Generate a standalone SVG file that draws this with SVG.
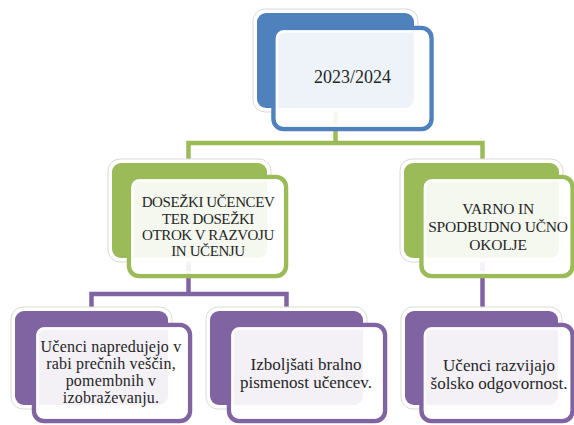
<svg xmlns="http://www.w3.org/2000/svg" width="574" height="425" viewBox="0 0 574 425">
<style>
  .halo{fill:#ffffff;stroke:#d9d9d9;stroke-width:1}
  .back-b{fill:#4F81BD}
  .back-g{fill:#9BBB59}
  .back-p{fill:#8064A2}
  .front{fill:#ffffff;fill-opacity:0.9;stroke-width:4.5}
  .fb{stroke:#4F81BD}
  .fg{stroke:#9BBB59}
  .fp{stroke:#8064A2}
  .inner{fill:none;stroke:#ffffff;stroke-width:2.5;stroke-opacity:0.85}
  .conn{fill:none;stroke-width:4.5;stroke-linejoin:miter}
  text{font-family:"Liberation Serif","Times New Roman",serif;fill:#262626;text-anchor:middle}
  .t0{font-size:18px}
  .t1{font-size:15px;letter-spacing:-0.4px}
  .t1r{font-size:15.5px;letter-spacing:-0.2px}
  .t2{font-size:17px}
  .t2s{font-size:16px;letter-spacing:0.2px}
</style>
<rect width="574" height="425" fill="#ffffff"/>
<g id="connectors">
  <path class="conn" stroke="#9BBB59" d="M188.5 163 V143 H482.5 V163 M335.5 108 V143"/>
  <path class="conn" stroke="#8064A2" d="M91.5 311 V294 H286.5 V311 M188.5 258 V294 M482.5 258 V311"/>
</g>
<g id="node-top">
  <rect class="halo" x="253" y="9" width="165" height="103" rx="12"/>
  <rect class="back-b" x="257" y="13" width="157" height="95" rx="9"/>
  <rect class="front fb" x="273.5" y="28" width="158" height="101" rx="10"/>
  <rect class="inner" x="277" y="31.5" width="151" height="94" rx="7"/>
  <text class="t0" x="352.5" y="83">2023/2024</text>
</g>
<g id="node-dosezki">
  <rect class="halo" x="108" y="159" width="163" height="103" rx="12"/>
  <rect class="back-g" x="112" y="163" width="155" height="95" rx="9"/>
  <rect class="front fg" x="129" y="177" width="157" height="99" rx="10"/>
  <rect class="inner" x="132.5" y="180.5" width="150" height="92" rx="7"/>
  <text class="t1" x="208" y="207">DOSEŽKI UČENCEV</text>
  <text class="t1" x="208" y="223.5">TER DOSEŽKI</text>
  <text class="t1" x="208" y="240">OTROK V RAZVOJU</text>
  <text class="t1" x="208" y="256">IN UČENJU</text>
</g>
<g id="node-varno">
  <rect class="halo" x="400" y="159" width="163" height="103" rx="12"/>
  <rect class="back-g" x="404" y="163" width="155" height="95" rx="9"/>
  <rect class="front fg" x="421.5" y="177" width="151" height="99" rx="10"/>
  <rect class="inner" x="425" y="180.5" width="144" height="92" rx="7"/>
  <text class="t1r" x="498" y="214">VARNO IN</text>
  <text class="t1r" x="498" y="232">SPODBUDNO UČNO</text>
  <text class="t1r" x="498" y="250">OKOLJE</text>
</g>
<g id="node-napredujejo">
  <rect class="halo" x="11" y="307" width="161" height="102" rx="12"/>
  <rect class="back-p" x="15" y="311" width="153" height="94" rx="9"/>
  <rect class="front fp" x="34" y="325" width="156" height="96" rx="10"/>
  <rect class="inner" x="37.5" y="328.5" width="149" height="89" rx="7"/>
  <text class="t2s" x="111" y="352">Učenci napredujejo v</text>
  <text class="t2s" x="111" y="369">rabi prečnih veščin,</text>
  <text class="t2s" x="111" y="386">pomembnih v</text>
  <text class="t2s" x="111" y="403">izobraževanju.</text>
</g>
<g id="node-bralno">
  <rect class="halo" x="206" y="307" width="161" height="102" rx="12"/>
  <rect class="back-p" x="210" y="311" width="153" height="94" rx="9"/>
  <rect class="front fp" x="229" y="325" width="156" height="96" rx="10"/>
  <rect class="inner" x="232.5" y="328.5" width="149" height="89" rx="7"/>
  <text class="t2" x="306" y="370">Izboljšati bralno</text>
  <text class="t2" x="306" y="388">pismenost učencev.</text>
</g>
<g id="node-odgovornost">
  <rect class="halo" x="401" y="307" width="161" height="102" rx="12"/>
  <rect class="back-p" x="405" y="311" width="153" height="94" rx="9"/>
  <rect class="front fp" x="421.5" y="325" width="151" height="96" rx="10"/>
  <rect class="inner" x="425" y="328.5" width="144" height="89" rx="7"/>
  <text class="t2" x="499" y="371">Učenci razvijajo</text>
  <text class="t2" x="499" y="389">šolsko odgovornost.</text>
</g>
</svg>
